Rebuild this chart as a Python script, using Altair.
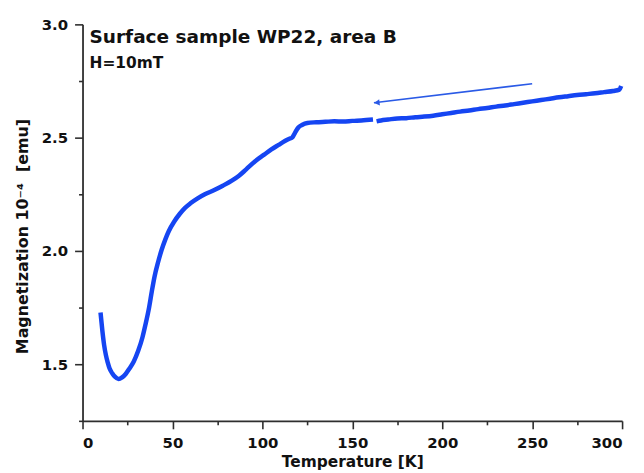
import altair as alt
import pandas as pd

# ---- data ----
temp_k = [10, 11, 12, 13, 14, 15, 16.5, 18, 20, 22, 24, 26, 28.5, 31, 33.3, 35, 37,
          38.5, 40, 42, 44, 46, 48, 51, 54, 57, 60, 64, 68, 73, 78, 83, 87, 91, 96,
          101, 105, 109, 112.5, 115, 116.5, 117.5, 118.5, 120, 122, 125, 130, 135,
          140, 145, 150, 155, 161.5,
          163.5, 166, 170, 175, 180, 185, 190, 195, 200, 205, 210, 215, 220, 225,
          230, 235, 240, 245, 250, 255, 260, 265, 270, 275, 280, 285, 290, 295,
          298.5, 299.5]
magnetization = [1.728, 1.650, 1.585, 1.540, 1.508, 1.482, 1.460, 1.445, 1.435, 1.442,
                 1.457, 1.480, 1.512, 1.560, 1.618, 1.675, 1.750, 1.820, 1.885, 1.950,
                 2.005, 2.050, 2.088, 2.130, 2.163, 2.190, 2.210, 2.232, 2.250, 2.268,
                 2.288, 2.310, 2.332, 2.360, 2.396, 2.425, 2.448, 2.468, 2.485, 2.495,
                 2.500, 2.512, 2.527, 2.545, 2.556, 2.565, 2.568, 2.570, 2.572, 2.571,
                 2.574, 2.576, 2.580,
                 2.572, 2.576, 2.580, 2.585, 2.586, 2.590, 2.593, 2.597, 2.603, 2.609,
                 2.615, 2.620, 2.626, 2.631, 2.637, 2.642, 2.648, 2.654, 2.660, 2.666,
                 2.672, 2.678, 2.683, 2.688, 2.692, 2.696, 2.701, 2.706, 2.712, 2.728]
segment = ["a"] * 53 + ["b"] * 30

arrow_t_start = [250]
arrow_m_start = [2.738]
arrow_t_end = [162]
arrow_m_end = [2.654]

title_text = ["Surface sample WP22, area B"]
title_t = [3.9]
title_m = [2.918]
field_text = ["H=10mT"]
field_t = [3.9]
field_m = [2.808]

x_major = [0, 50, 100, 150, 200, 250, 300]
x_minor = [25, 75, 125, 175, 225, 275]
y_major = [1.5, 2.0, 2.5, 3.0]
y_minor = [1.25, 1.75, 2.25, 2.75]

# ---- tables ----
curve = pd.DataFrame({"T": temp_k, "M": magnetization, "seg": segment})
arrow = pd.DataFrame({"t": arrow_t_start, "m": arrow_m_start,
                      "t2": arrow_t_end, "m2": arrow_m_end})
head = pd.DataFrame({"t": arrow_t_end, "m": arrow_m_end})
title_df = pd.DataFrame({"t": title_t, "m": title_m, "label": title_text})
field_df = pd.DataFrame({"t": field_t, "m": field_m, "label": field_text})

BLUE = "#1545f2"
AXIS_COLOR = "#2e2e2e"
xs = alt.Scale(domain=[0, 300], nice=False, zero=False)
ys = alt.Scale(domain=[1.25, 3.0], nice=False, zero=False)

x_axis = alt.Axis(values=x_major, orient="bottom", title="Temperature [K]",
                  tickSize=8, labelPadding=7, titlePadding=4, titleFontSize=15.5)
y_axis = alt.Axis(values=y_major, orient="left", format=".1f",
                  title="Magnetization 10\u207b\u2074\u00a0\u00a0[emu]",
                  tickSize=8, labelPadding=7, titlePadding=11, titleFontSize=16,
                  titleY=213)
x_axis_minor = alt.Axis(values=x_minor, orient="bottom", labels=False, domain=False,
                        tickSize=4, title=None)
y_axis_minor = alt.Axis(values=y_minor, orient="left", labels=False, domain=False,
                        tickSize=4, title=None)

line = alt.Chart(curve).mark_line(color=BLUE, strokeWidth=4.5, interpolate="monotone").encode(
    x=alt.X("T:Q", scale=xs, axis=x_axis),
    y=alt.Y("M:Q", scale=ys, axis=y_axis),
    detail="seg:N",
    order="T:Q",
)

arrow_line = alt.Chart(arrow).mark_rule(color="#2a5ae6", strokeWidth=1.6).encode(
    x=alt.X("t:Q", scale=xs, axis=x_axis_minor),
    y=alt.Y("m:Q", scale=ys, axis=y_axis_minor),
    x2="t2:Q",
    y2="m2:Q",
)

arrow_head = alt.Chart(head).mark_point(shape="triangle-left", filled=True, size=40,
                                         angle=353, xOffset=3, color="#2a5ae6",
                                         opacity=1).encode(
    x=alt.X("t:Q", scale=xs, axis=None),
    y=alt.Y("m:Q", scale=ys, axis=None),
)

title_mark = alt.Chart(title_df).mark_text(align="left", baseline="alphabetic",
                                           font="DejaVu Sans", fontWeight="bold",
                                           fontSize=18.6, color="#111111").encode(
    x=alt.X("t:Q", scale=xs, axis=None),
    y=alt.Y("m:Q", scale=ys, axis=None),
    text="label:N",
)

field_mark = alt.Chart(field_df).mark_text(align="left", baseline="alphabetic",
                                           font="DejaVu Sans", fontWeight="bold",
                                           fontSize=15.5, color="#111111").encode(
    x=alt.X("t:Q", scale=xs, axis=None),
    y=alt.Y("m:Q", scale=ys, axis=None),
    text="label:N",
)

chart = alt.layer(line, arrow_line, arrow_head, title_mark, field_mark).resolve_axis(
    x="independent", y="independent"
).properties(
    width=543,
    height=399,
    padding={"left": 75, "top": 15, "right": 14, "bottom": 50},
    autosize=alt.AutoSizeParams(type="none"),
    background="white",
).configure_view(
    stroke=None
).configure_axis(
    grid=False,
    domainColor=AXIS_COLOR, tickColor=AXIS_COLOR, domainWidth=1.8, tickWidth=1.6,
    labelColor="#111111", labelFont="DejaVu Sans", labelFontSize=15,
    labelFontWeight="bold",
    titleColor="#111111", titleFont="DejaVu Sans", titleFontWeight="bold",
)

chart.save("out.html", embed_options={"renderer": "svg", "actions": False})
